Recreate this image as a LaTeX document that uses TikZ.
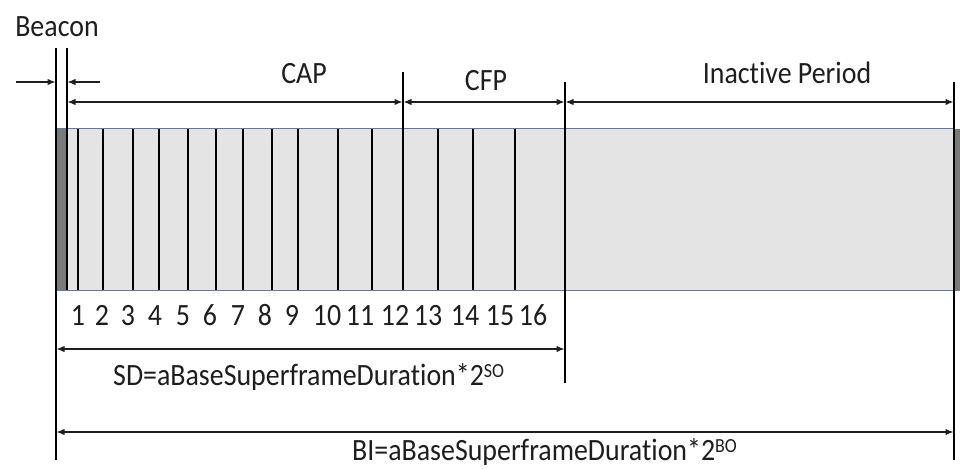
\documentclass[tikz,border=0pt]{standalone}
\usepackage{fontspec}
\setmainfont{Carlito}[Ligatures=NoCommon, FakeStretch=0.9]
\usetikzlibrary{arrows.meta}
\definecolor{cellgray}{HTML}{E4E4E4}
\definecolor{beacongray}{HTML}{7A7A7A}
\definecolor{rimblue}{HTML}{5B78A6}
\definecolor{inkgray}{HTML}{1E1E1E}
\begin{document}
\begin{tikzpicture}[x=1pt,y=-1pt,
  lbl/.style={font=\fontsize{31}{36}\selectfont, text=inkgray, inner sep=0pt},
  num/.style={lbl, anchor=base},
  tip/.tip={Latex[length=8pt,width=6.5pt]},
  dimline/.style={line width=1.3pt, draw=inkgray, tip-tip},
  oneway/.style={line width=1.3pt, draw=inkgray, -tip},
  bound/.style={line width=1.2pt, draw=black},
  slotline/.style={line width=1.5pt, draw=black}
]
\useasboundingbox (0,0) rectangle (960,468);
% frame body
\fill[cellgray] (56,128.5) rectangle (953,290.5);
\fill[beacongray] (56,128.5) rectangle (67,290.5);
\fill[beacongray] (953,128.5) rectangle (960,290.5);
\draw[rimblue, line width=1pt] (56,128.5) rectangle (953,290.5);
% slot lines
\foreach \xx in {78,103,133,159,188,216,243,272,298,338,372,438,473,515}
  \draw[slotline] (\xx,129) -- (\xx,290);
% boundary coordinates
\coordinate (bl0) at (56,48);   \coordinate (bl1) at (56,460);
\coordinate (br0) at (67,48);   \coordinate (br1) at (67,290);
\coordinate (cf0) at (403,72);  \coordinate (cf1) at (403,290);
\coordinate (sd0) at (565,82);  \coordinate (sd1) at (565,383);
\coordinate (bi0) at (954,82);  \coordinate (bi1) at (954,460);
\draw[bound] (bl0) -- (bl1);
\draw[bound] (br0) -- (br1);
\draw[slotline] (cf0) -- (cf1);
\draw[bound] (sd0) -- (sd1);
\draw[bound] (bi0) -- (bi1);
% beacon arrows
\coordinate (ba0) at (16,82);  \coordinate (ba1) at (55.5,82);
\coordinate (bb0) at (100,82); \coordinate (bb1) at (67.5,82);
\draw[oneway] (ba0) -- (ba1);
\draw[oneway] (bb0) -- (bb1);
% period arrows
\coordinate (capL) at (67.5,102); \coordinate (capR) at (402.5,102);
\coordinate (cfpL) at (403.5,102); \coordinate (cfpR) at (564.5,102);
\coordinate (inaL) at (565.5,102); \coordinate (inaR) at (953.5,102);
\draw[dimline] (capL) -- (capR);
\draw[dimline] (cfpL) -- (cfpR);
\draw[dimline] (inaL) -- (inaR);
\coordinate (sdL) at (56.5,349); \coordinate (sdR) at (564.5,349);
\coordinate (biL) at (56.5,432); \coordinate (biR) at (953.5,432);
\draw[dimline] (sdL) -- (sdR);
\draw[dimline] (biL) -- (biR);
% labels
\node[lbl] (beacon) at (57,27) {Beacon};
\node[lbl] (cap) at (304,74) {CAP};
\node[lbl] (cfp) at (486,81) {CFP};
\node[lbl] (inactive) at (787,73) {Inactive Period};
\node[lbl, anchor=base west] (sdtxt) at (113,385) {SD=aBaseSuperframeDuration*2{\fontsize{20}{20}\selectfont\raisebox{8pt}{SO}}};
\node[lbl, anchor=base west] (bitxt) at (352,460) {BI=aBaseSuperframeDuration*2{\fontsize{20}{20}\selectfont\raisebox{8pt}{BO}}};
% slot numbers
\foreach \xx/\nn in {78/1,102/2,128/3,155/4,183/5,210/6,238/7,265/8,292/9,327/10,360/11,395/12,428/13,465/14,500/15,533/16}
  \node[num] (n\nn) at (\xx,325) {\nn};
\end{tikzpicture}
\end{document}
